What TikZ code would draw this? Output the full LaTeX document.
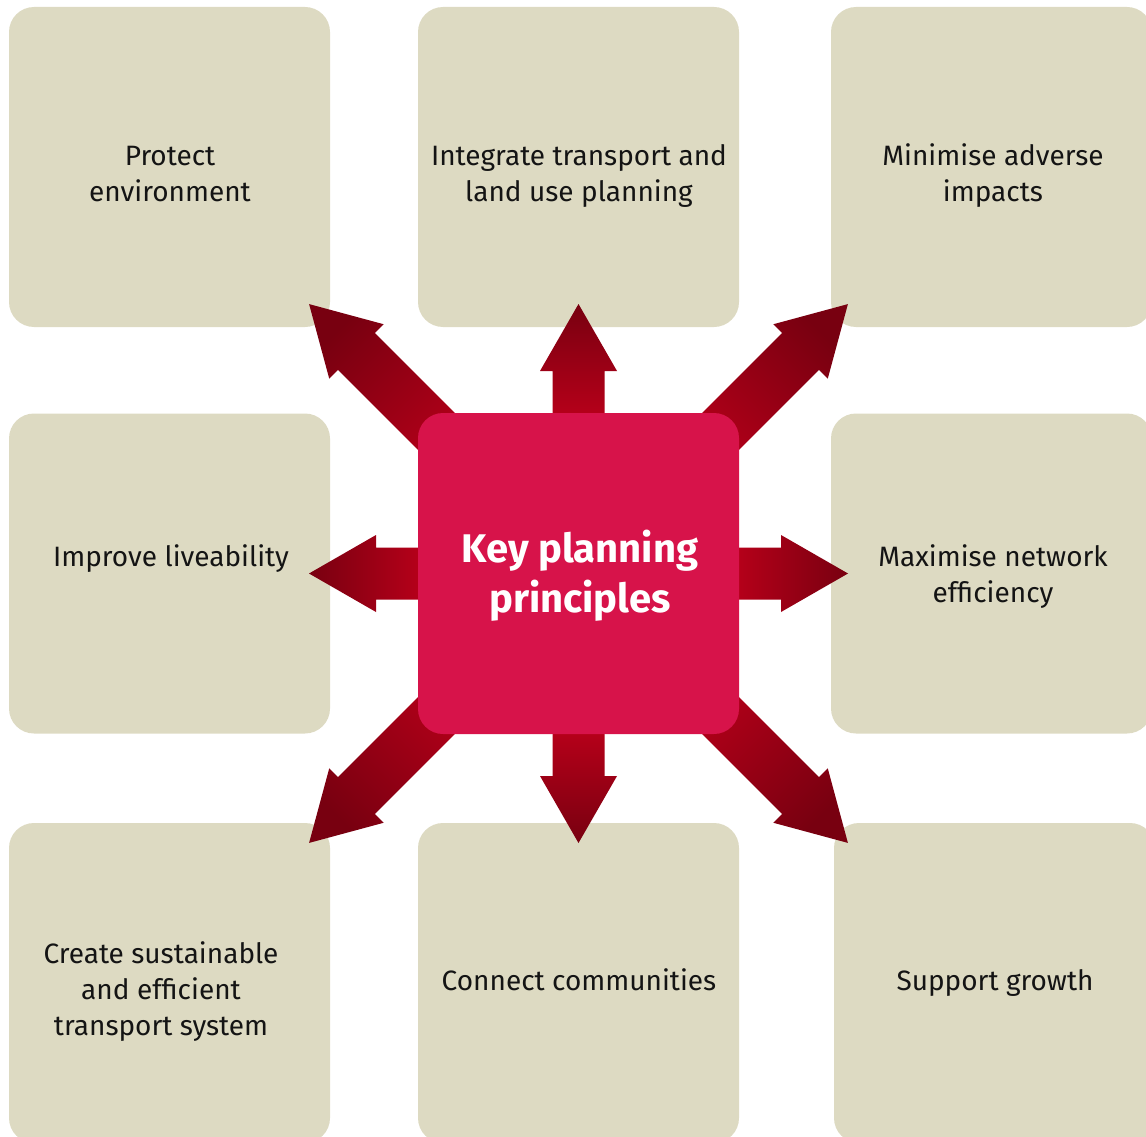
\documentclass[tikz,border=0pt]{standalone}
\usepackage{fontspec}
\setmainfont{Fira Sans}
\definecolor{boxbg}{HTML}{DDDAC2}
\definecolor{keyred}{HTML}{D7134A}
\definecolor{arrdark}{HTML}{780010}
\definecolor{arrlight}{HTML}{BA001A}
\definecolor{txt}{HTML}{141414}
\tikzset{
  tile/.style={rounded corners=25pt, fill=boxbg, minimum width=321pt, minimum height=320pt, inner sep=0pt},
  keybox/.style={rounded corners=25pt, fill=keyred, minimum width=321pt, minimum height=321pt, inner sep=0pt},
  lbl/.style={anchor=base, align=center, text=txt, font=\fontsize{28}{36}\selectfont, inner sep=0pt},
  ttl/.style={anchor=base, align=center, text=white, font=\fontsize{40}{50}\selectfont\bfseries, inner sep=0pt},
  blockarrow/.style={top color=arrdark, bottom color=arrlight, draw=none}
}
\newcommand{\keyarrow}[3]{%
  \shade[blockarrow, shading angle=#3, shift={(kp.center)}, rotate=#1]
    (150,-26) -- (#2-67,-26) -- (#2-67,-38.5) -- (#2,0) -- (#2-67,38.5) -- (#2-67,26) -- (150,26) -- cycle;
}
\begin{document}
\begin{tikzpicture}[x=1pt,y=-1pt]
\useasboundingbox (0,0) rectangle (1146,1137);
\clip (0,0) rectangle (1146,1137);
% tiles
\node[tile] (tl) at (169.5,167) {};
\node[tile] (tm) at (578.5,167) {};
\node[tile] (tr) at (991.5,167) {};
\node[tile] (ml) at (169.5,573.5) {};
\node[tile] (mr) at (991.5,573.5) {};
\node[tile] (bl) at (169.5,983) {};
\node[tile] (bm) at (578.5,983) {};
\node[tile] (br) at (994.5,983) {};
% centre coordinate for arrows
\coordinate (kp) at (578.5,573.5);
% arrows
\keyarrow{90}{269.5}{0}
\keyarrow{180}{269.5}{90}
\keyarrow{0}{269.5}{-90}
\keyarrow{270}{269.5}{180}
\keyarrow{135}{381}{45}
\keyarrow{45}{381}{-45}
\keyarrow{225}{381}{135}
\keyarrow{315}{381}{225}
% centre box
\node[keybox] (key) at (kp) {};
\node[ttl] (keyt) at (580,612) {Key planning\\principles};
% labels
\node[lbl] (tlt) at (170,201) {Protect\\environment};
\node[lbl] (tmt) at (579,201) {Integrate transport and\\land use planning};
\node[lbl] (trt) at (993,201) {Minimise adverse\\impacts};
\node[lbl] (mlt) at (171,566) {Improve liveability};
\node[lbl] (mrt) at (993,602) {Maximise network\\efficiency};
\node[lbl] (blt) at (161,1035) {Create sustainable\\and efficient\\transport system};
\node[lbl] (bmt) at (579,990) {Connect communities};
\node[lbl] (brt) at (995,990) {Support growth};
\end{tikzpicture}
\end{document}
